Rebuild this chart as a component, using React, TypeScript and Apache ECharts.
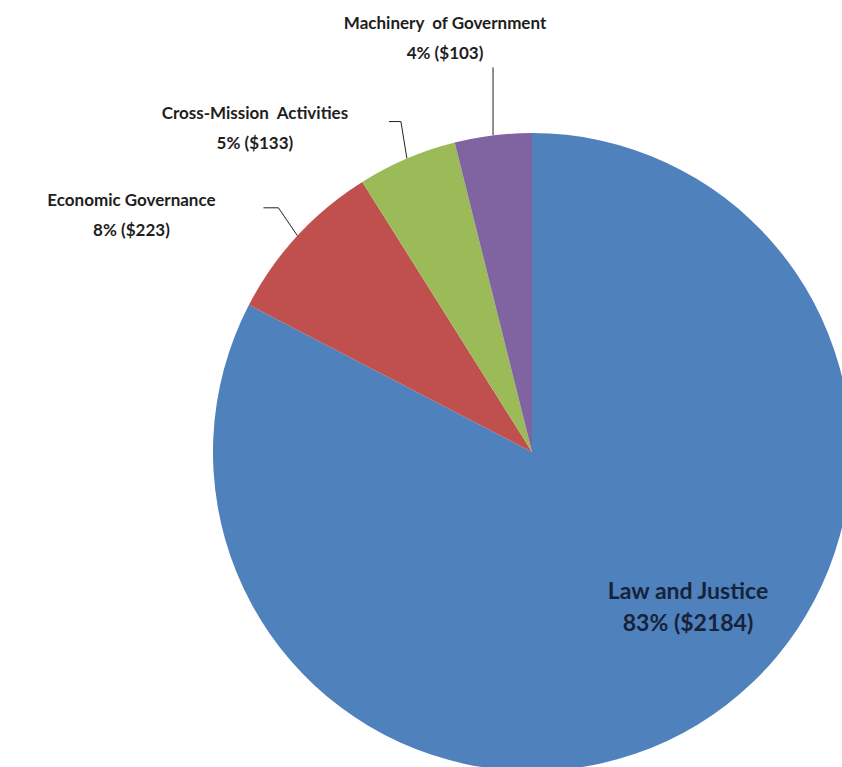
import React, { useEffect, useRef } from "react";
import * as echarts from "echarts";

const categories = ["Law and Justice", "Economic Governance", "Cross-Mission  Activities", "Machinery  of Government"];
const values = [2184, 223, 133, 103];
const percents = [83, 8, 5, 4];
const colors = ["#4F81BD", "#C0504D", "#9BBB59", "#8064A2"];

export default function App() {
  const ref = useRef<HTMLDivElement>(null);
  useEffect(() => {
    if (!ref.current) return;
    const chart = echarts.init(ref.current, null, { renderer: "svg" });
    const data = categories.map((name, i) => ({
      name,
      value: values[i],
      itemStyle: { color: colors[i] },
      ...(i === 0 ? { label: { fontSize: 23, lineHeight: 32, color: "#16233a" } } : {}),
    }));
    chart.setOption({
      animation: false,
      backgroundColor: "#ffffff",
      series: [
        {
          type: "pie",
          center: [532, 452],
          radius: 319,
          startAngle: 90,
          clockwise: true,
          data,
          label: {
            show: true,
            position: "outside",
            formatter: (p: any) => `${p.name}\n${percents[p.dataIndex]}% ($${values[p.dataIndex]})`,
            fontFamily: "Lato, 'Open Sans', sans-serif",
            fontWeight: "bold",
            fontSize: 17,
            lineHeight: 30,
            color: "#1e1e1e",
            align: "center",
            overflow: "none",
            width: 300,
          },
          labelLine: {
            show: true,
            length: 20,
            length2: 12,
            lineStyle: { color: "#222222", width: 1 },
          },
          labelLayout: (p: any) => {
            const pts = p.labelLinePoints;
            const i = p.dataIndex;
            if (i === 0) {
              return {
                x: 688,
                y: 606,
                align: "center",
                verticalAlign: "middle",
                labelLinePoints: pts ? [pts[0], pts[0], pts[0]] : undefined,
              };
            }
            if (!pts) return {};
            const [sx, sy] = pts[0];
            if (i === 3) {
              return {
                x: sx - 48,
                y: sy - 98,
                align: "center",
                verticalAlign: "middle",
                labelLinePoints: [[sx, sy], [sx, sy - 68], [sx, sy - 68]],
              };
            }
            if (i === 2) {
              return {
                x: sx - 152,
                y: sy - 31,
                align: "center",
                verticalAlign: "middle",
                labelLinePoints: [[sx, sy], [sx - 6, sy - 37], [sx - 18, sy - 37]],
              };
            }
            return {
              x: sx - 166,
              y: sy - 21,
              align: "center",
              verticalAlign: "middle",
              labelLinePoints: [[sx, sy], [sx - 19, sy - 28], [sx - 34, sy - 28]],
            };
          },
          emphasis: { disabled: true },
        },
      ],
    });
    return () => chart.dispose();
  }, []);
  return (
    <div
      ref={ref}
      style={{ position: "fixed", left: 0, top: 0, width: 842, height: 767, background: "#fff" }}
    />
  );
}
